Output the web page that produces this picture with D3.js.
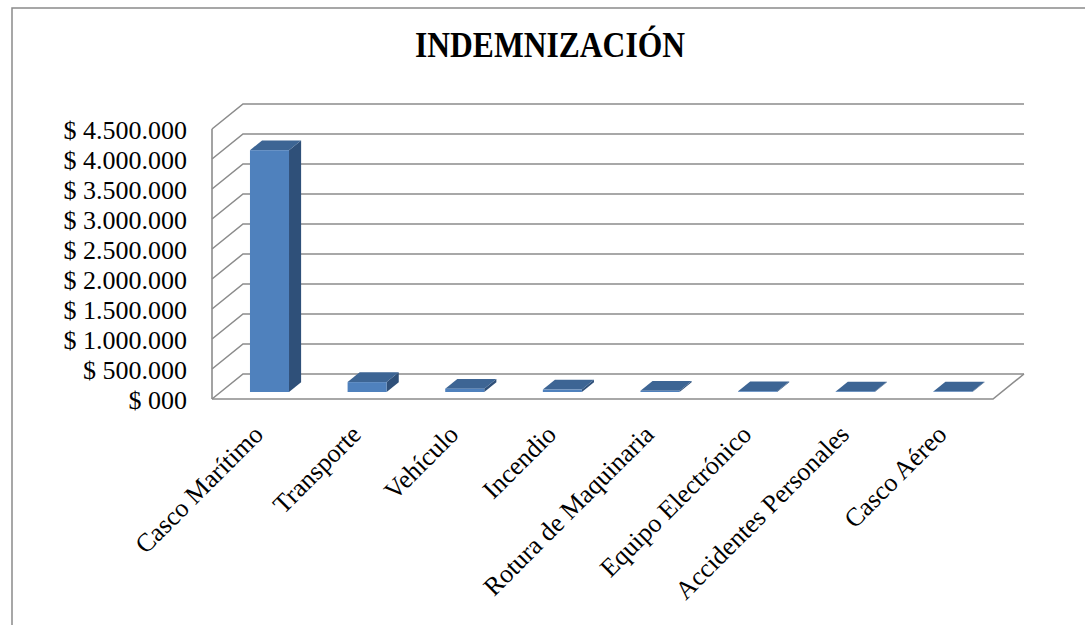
<!DOCTYPE html>
<html>
<head>
<meta charset="utf-8">
<script src="https://cdn.jsdelivr.net/npm/d3@7"></script>
<style>
  body { margin: 0; background: #fff; }
  svg { display: block; }
</style>
</head>
<body>
<div id="chart"></div>
<script>
// Datos del gráfico
const categorias = [
  'Casco Marítimo', 'Transporte', 'Vehículo', 'Incendio',
  'Rotura de Maquinaria', 'Equipo Electrónico', 'Accidentes Personales', 'Casco Aéreo'
];
const indemnizacion = [4030000, 165000, 55000, 40000, 20000, 12000, 10000, 8000];
const ticks = [0, 500000, 1000000, 1500000, 2000000, 2500000, 3000000, 3500000, 4000000, 4500000];
const tickLabels = [
  '$ 000', '$ 500.000', '$ 1.000.000', '$ 1.500.000', '$ 2.000.000',
  '$ 2.500.000', '$ 3.000.000', '$ 3.500.000', '$ 4.000.000', '$ 4.500.000'
];

const width = 1085;
const height = 625;

// Profundidad del efecto 3D (pared de fondo)
const depthX = 31;
const depthY = -25;
// Posición de las barras dentro de la profundidad
const barFront = 0.28;
const barDepth = 0.39;

const gridColor = '#8c8c8c';
const font = '"Liberation Serif", "Times New Roman", serif';

const svg = d3.select('#chart')
  .append('svg')
  .attr('width', width)
  .attr('height', height);

// Borde del área del gráfico
svg.append('rect')
  .attr('x', 12)
  .attr('y', 8)
  .attr('width', width)
  .attr('height', height)
  .attr('fill', 'none')
  .attr('stroke', '#8a8a8a')
  .attr('stroke-width', 1.5);

// Título
svg.append('text')
  .attr('x', 550)
  .attr('y', 57)
  .attr('text-anchor', 'middle')
  .attr('font-family', font)
  .attr('font-weight', 700)
  .attr('font-size', 35)
  .attr('textLength', 270)
  .attr('lengthAdjust', 'spacingAndGlyphs')
  .attr('fill', '#000')
  .text('INDEMNIZACIÓN');

// Escalas (plano frontal)
const x = d3.scaleBand()
  .domain(categorias)
  .range([212, 993])
  .paddingInner(0.6)
  .paddingOuter(0.3);

const y = d3.scaleLinear()
  .domain([0, 4500000])
  .range([399, 129]);

const x0 = x.range()[0];
const x1 = x.range()[1];

const grid = svg.append('g')
  .attr('fill', 'none')
  .attr('stroke', gridColor)
  .attr('stroke-width', 1.6);

// Eje vertical frontal
grid.append('line')
  .attr('x1', x0).attr('y1', y(0))
  .attr('x2', x0).attr('y2', y(4500000));

// Líneas de cuadrícula: diagonal + pared de fondo
grid.selectAll('.grid')
  .data(ticks)
  .enter()
  .append('path')
  .attr('class', 'grid')
  .attr('d', d => `M${x0},${y(d)} L${x0 + depthX},${y(d) + depthY} L${x1 + depthX},${y(d) + depthY}`);

// Piso
grid.append('path')
  .attr('d', `M${x0},${y(0)} L${x1},${y(0)} L${x1 + depthX},${y(0) + depthY}`);

// Barras 3D
const fx = depthX * barFront;
const fy = depthY * barFront;
const dx = depthX * barDepth;
const dy = depthY * barDepth;

const bars = svg.selectAll('.bar')
  .data(categorias.map((c, i) => ({ cat: c, valor: indemnizacion[i] })))
  .enter()
  .append('g')
  .attr('class', 'bar');

bars.each(function(d) {
  const g = d3.select(this);
  const left = x(d.cat) + fx;
  const right = left + x.bandwidth();
  const bottom = y(0) + fy;
  const top = y(d.valor) + fy;

  // Cara lateral
  g.append('path')
    .attr('d', `M${right},${top} L${right + dx},${top + dy} L${right + dx},${bottom + dy} L${right},${bottom} Z`)
    .attr('fill', '#2f5079');

  // Cara superior
  g.append('path')
    .attr('d', `M${left},${top} L${left + dx},${top + dy} L${right + dx},${top + dy} L${right},${top} Z`)
    .attr('fill', '#3d6594');

  // Cara frontal
  g.append('rect')
    .attr('x', left)
    .attr('y', top)
    .attr('width', x.bandwidth())
    .attr('height', bottom - top)
    .attr('fill', '#4f81bd');
});

// Etiquetas del eje Y
svg.selectAll('.ylabel')
  .data(ticks)
  .enter()
  .append('text')
  .attr('class', 'ylabel')
  .attr('x', 187)
  .attr('y', d => y(d))
  .attr('dy', '0.38em')
  .attr('text-anchor', 'end')
  .attr('font-family', font)
  .attr('font-size', 26)
  .attr('fill', '#000')
  .text((d, i) => tickLabels[i]);

// Etiquetas de categorías (rotadas)
svg.selectAll('.xlabel')
  .data(categorias)
  .enter()
  .append('text')
  .attr('class', 'xlabel')
  .attr('transform', d => `translate(${x(d) + x.bandwidth() / 2 + 4}, 436) rotate(-45)`)
  .attr('text-anchor', 'end')
  .attr('font-family', font)
  .attr('font-size', 26)
  .attr('fill', '#000')
  .text(d => d);
</script>
</body>
</html>
